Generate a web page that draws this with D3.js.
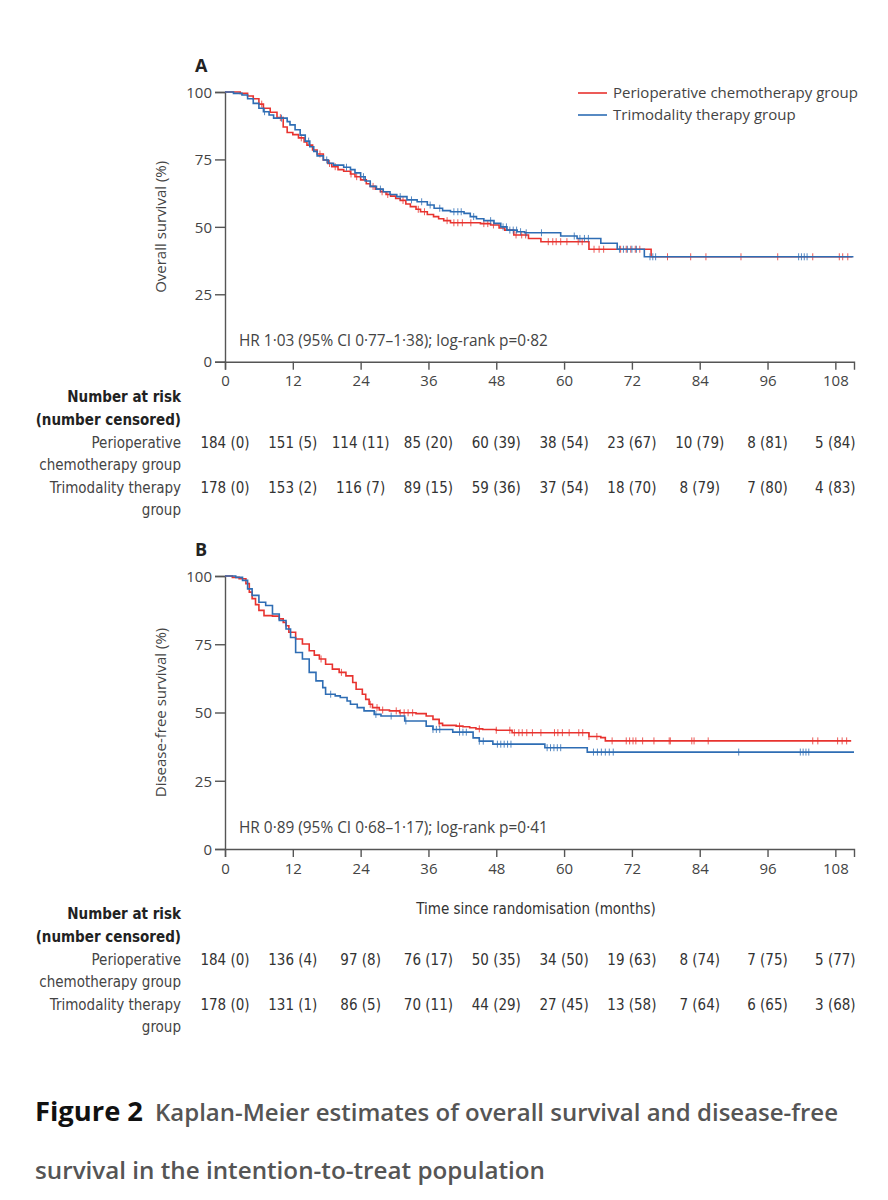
<!DOCTYPE html>
<html>
<head>
<meta charset="utf-8">
<script src="https://cdn.jsdelivr.net/npm/d3@7"></script>
<style>
  body { margin: 0; background: #fff; }
  svg { display: block; }
  .tick text { font-family: "Open Sans", sans-serif; font-size: 15px; fill: #444; }
  .risk { font-family: "Liberation Sans Narrow", "DejaVu Sans Condensed", "Open Sans", sans-serif; font-size: 15px; fill: #333; }
</style>
</head>
<body>
<script>
// time axis and risk table columns
var months = [0, 12, 24, 36, 48, 60, 72, 84, 96, 108];
var survTicks = [0, 25, 50, 75, 100];

// A: overall survival, [month, % surviving] at each step
var osPeri = [[0,100],[2.7,99.5],[4,98.5],[5,97.5],[6,95.5],[6.8,94],[8,92.5],[9.2,90.5],[10.3,87],[11,85],[12,84.2],[13,83],[14,81.5],[14.5,80.3],[15.5,78.5],[16.3,77],[17.4,74.8],[18.2,73.5],[18.9,72.3],[20,71.2],[21,70.6],[22.2,69.6],[23,68.6],[24,67.4],[25,66],[25.7,65],[26.6,64],[27.5,63],[28.5,62],[29.3,61.4],[30.2,60.5],[31,59.8],[32,58.5],[32.8,57.5],[33.8,56.5],[34.6,55.6],[35.8,54.6],[36.9,53.8],[37.8,53],[38.7,52.3],[39.9,51.5],[45.2,51.2],[47,50.7],[48.5,49.6],[49.5,48.8],[51.1,47],[53.7,45.7],[55.9,44.5],[64.4,41.7],[75.4,38.9]];
var osTri = [[0,100],[1.5,99.5],[3,98.9],[4,97.5],[5,95.8],[6,94],[6.8,92.7],[7.8,91.5],[8.6,90.3],[11,89],[11.5,87.8],[12.4,86],[13.3,84],[14.2,81.8],[15,79.7],[15.7,78],[16.3,76.3],[17.4,74.8],[18.3,73.6],[19.2,72.9],[21,72.1],[22.2,71.2],[23,70],[24,68.6],[24.8,67],[25.7,65],[26.8,64],[28,63],[29.2,62],[30.4,61.2],[32.2,60],[34,59.3],[35.8,58.1],[37,56.9],[38.5,56],[39.9,55.6],[42.3,55],[43.4,53.8],[44.5,53],[45.8,52.3],[47.6,51.3],[48.8,50],[49.9,48.8],[51.7,48.2],[53,47.8],[59.4,46.6],[62.3,45.7],[66.5,43.9],[69.4,41.7],[74.2,38.9]];
var osPeriCens = [6.5,9.8,13.5,16.8,18.5,19.5,22.3,23.3,26.2,27.8,28.8,31.5,34.2,35.3,39.3,40.5,41.2,42,43.5,45.8,46.5,47.5,51.5,52.5,53.2,57.2,58,58.6,59.4,60.5,62.5,63.2,65.3,66.2,67,70,71,71.8,72.6,73.4,78.3,82.4,85.1,91.3,97.8,104,108.7,109.3,110.2];
var osTriCens = [7,10,14.8,18,21.5,24.5,27.5,31,33,34.8,36.3,38,40.5,41.2,41.8,44,47,49.2,49.8,50.4,51,51.6,52.3,53.3,56,61.8,62.8,63.6,64.3,69.8,70.5,71.2,72,72.8,75.2,75.7,76.2,101.5,102,102.5,103];

// B: disease-free survival
var dfsPeri = [[0,100],[1.3,99.5],[2.5,99],[3.7,97.2],[4.3,94.1],[4.8,91.7],[5.4,89.5],[6,87.4],[6.9,85.5],[8.4,85.3],[9.6,84.3],[10.3,83],[10.8,81.8],[11.3,79.4],[12.5,76.9],[13.7,75.1],[14.9,72.6],[15.8,71],[16.7,69.6],[17.8,67.7],[19,65.9],[20.2,64.7],[21.4,63.4],[22.6,61],[23.2,58.5],[24.3,56.7],[24.9,54.8],[25.5,53],[26.1,51.8],[27.3,50.9],[29.1,50.6],[30.9,49.9],[33.8,49.6],[35.6,48.7],[36.8,47.5],[37.9,46],[38.5,45.3],[40.9,45],[42.1,44.8],[43.3,44.4],[44.4,44],[45.6,43.8],[48,43.5],[50.8,42.6],[64.4,41.2],[66.5,40.8],[67.3,39.6]];
var dfsTri = [[0,100],[1.9,99.5],[3.1,98.4],[4,95.3],[4.8,92.9],[6,90.4],[7.2,89.2],[8.4,86.1],[9.6,83.7],[10.8,80.6],[11.6,77.5],[12.5,72],[13.7,69.6],[14.9,64.7],[16.1,61.6],[17.3,59.1],[17.8,56.7],[19.5,56.1],[20.4,55.5],[21.6,54.2],[22.2,53],[23.4,51.8],[24.6,50.6],[26.4,49.3],[27.6,48.7],[31.8,46.9],[35.6,45],[36.8,43.8],[40.3,42.8],[43.9,40.7],[45,39.5],[47.4,38.4],[56.6,37.1],[64.1,35.5]];
var dfsPeriCens = [17,20.6,25.7,26.9,27.9,30.3,31,31.7,32.4,33.2,37.9,41.5,45,48,50.4,51.2,52,52.6,53.4,54.4,55.9,58.3,58.9,59.7,60.9,62.6,63.3,64.4,65.8,68.5,71,71.6,72.2,72.7,73.9,75.9,78.6,78.8,82.6,83,85.5,104,104.9,108.4,109.2,110];
var dfsTriCens = [18.7,26.7,29.4,32,36.8,37.4,38,41.5,42.1,42.7,45,45.7,48.2,48.8,49.4,50,50.6,57,57.6,58.2,58.8,59.4,65.2,65.9,66.6,67.3,68,68.7,90.9,101.8,102.3,102.8,103.3];

// number at risk (number censored)
var osPeriRisk = ["184 (0)","151 (5)","114 (11)","85 (20)","60 (39)","38 (54)","23 (67)","10 (79)","8 (81)","5 (84)"];
var osTriRisk = ["178 (0)","153 (2)","116 (7)","89 (15)","59 (36)","37 (54)","18 (70)","8 (79)","7 (80)","4 (83)"];
var dfsPeriRisk = ["184 (0)","136 (4)","97 (8)","76 (17)","50 (35)","34 (50)","19 (63)","8 (74)","7 (75)","5 (77)"];
var dfsTriRisk = ["178 (0)","131 (1)","86 (5)","70 (11)","44 (29)","27 (45)","13 (58)","7 (64)","6 (65)","3 (68)"];

var red = "#e8332f", blue = "#2e6db4";
var tEnd = 111.3;

var svg = d3.select("body").append("svg")
    .attr("width", 888)
    .attr("height", 1200);
svg.append("rect").attr("width", 888).attr("height", 1200).attr("fill", "#fff");

var x = d3.scaleLinear().domain([0, tEnd]).range([225, 854]);

function levelAt(steps, t) {
  var v = steps[0][1];
  steps.forEach(function(p) { if (p[0] <= t) v = p[1]; });
  return v;
}

function drawPanel(p) {
  var y = d3.scaleLinear().domain([0, 100]).range([p.bottom, p.top]);

  var yAxis = d3.axisLeft(y).tickValues(survTicks).tickSize(10).tickPadding(3);
  var gy = svg.append("g").attr("transform", "translate(" + x(0) + ",0)").call(yAxis);
  var xAxis = d3.axisBottom(x).tickValues(months).tickSize(8).tickPadding(6);
  var gx = svg.append("g").attr("transform", "translate(0," + p.bottom + ")").call(xAxis);
  [gx, gy].forEach(function(g) {
    g.select(".domain").attr("stroke", "#555").attr("stroke-width", 1.4);
    g.selectAll(".tick line").attr("stroke", "#555").attr("stroke-width", 1.4);
  });
  gy.selectAll(".tick text").attr("dy", "0.35em");

  var line = d3.line()
      .curve(d3.curveStepAfter)
      .x(function(d) { return x(d[0]); })
      .y(function(d) { return y(d[1]); });

  p.series.forEach(function(s) {
    var pts = s.steps.concat([[s.end, s.steps[s.steps.length - 1][1]]]);
    svg.append("path")
        .attr("d", line(pts))
        .attr("fill", "none")
        .attr("stroke", s.color)
        .attr("stroke-width", 1.6);
    svg.append("g").selectAll("line")
        .data(s.cens)
        .enter().append("line")
        .attr("x1", function(t) { return x(t); })
        .attr("x2", function(t) { return x(t); })
        .attr("y1", function(t) { return y(levelAt(s.steps, t)) - 3.5; })
        .attr("y2", function(t) { return y(levelAt(s.steps, t)) + 3.5; })
        .attr("stroke", s.color)
        .attr("stroke-width", 1)
        .attr("opacity", 0.8);
  });

  svg.append("text")
      .attr("x", 195).attr("y", p.top - 20)
      .attr("font-family", "Open Sans, sans-serif").attr("font-size", 18).attr("font-weight", 700)
      .attr("fill", "#222")
      .text(p.letter);

  svg.append("text")
      .attr("transform", "translate(166," + (p.top + p.bottom) / 2 + ") rotate(-90)")
      .attr("text-anchor", "middle")
      .attr("font-family", "Open Sans, sans-serif").attr("font-size", 15).attr("fill", "#444")
      .text(p.ylabel);

  svg.append("text")
      .attr("x", 239).attr("y", p.bottom - 16)
      .attr("font-family", "Open Sans, sans-serif").attr("font-size", 15.4).attr("fill", "#444")
      .text(p.hr);

  // risk table
  var r = p.riskTop;
  var labels = [
    { t: "Number at risk", y: r, bold: true },
    { t: "(number censored)", y: r + 23, bold: true },
    { t: "Perioperative", y: r + 46 },
    { t: "chemotherapy group", y: r + 68 },
    { t: "Trimodality therapy", y: r + 91 },
    { t: "group", y: r + 113 }
  ];
  svg.append("g").selectAll("text")
      .data(labels)
      .enter().append("text")
      .attr("class", "risk")
      .attr("x", 181)
      .attr("y", function(d) { return d.y; })
      .attr("text-anchor", "end")
      .attr("font-weight", function(d) { return d.bold ? 700 : 400; })
      .style("fill", function(d) { return d.bold ? "#222" : "#444"; })
      .text(function(d) { return d.t; });

  [[p.risk[0], r + 46], [p.risk[1], r + 91]].forEach(function(row) {
    svg.append("g").selectAll("text")
        .data(row[0])
        .enter().append("text")
        .attr("class", "risk")
        .attr("x", function(d, i) { return x(months[i]); })
        .attr("y", row[1])
        .attr("text-anchor", "middle")
        .text(function(d) { return d; });
  });
}

drawPanel({
  letter: "A", top: 92, bottom: 361.7, ylabel: "Overall survival (%)",
  hr: "HR 1\u00b703 (95% CI 0\u00b777\u20131\u00b738); log-rank p=0\u00b782",
  series: [
    { steps: osPeri, cens: osPeriCens, color: red, end: 111 },
    { steps: osTri, cens: osTriCens, color: blue, end: 111.2 }
  ],
  risk: [osPeriRisk, osTriRisk], riskTop: 402
});

drawPanel({
  letter: "B", top: 576, bottom: 849, ylabel: "Disease-free survival (%)",
  hr: "HR 0\u00b789 (95% CI 0\u00b768\u20131\u00b717); log-rank p=0\u00b741",
  series: [
    { steps: dfsPeri, cens: dfsPeriCens, color: red, end: 110.8 },
    { steps: dfsTri, cens: dfsTriCens, color: blue, end: 111.3 }
  ],
  risk: [dfsPeriRisk, dfsTriRisk], riskTop: 919
});

svg.append("text")
    .attr("x", 536).attr("y", 914)
    .attr("text-anchor", "middle")
    .attr("class", "risk")
    .text("Time since randomisation (months)");

// legend
var legend = [{ name: "Perioperative chemotherapy group", color: red }, { name: "Trimodality therapy group", color: blue }];
var lg = svg.append("g").selectAll("g")
    .data(legend)
    .enter().append("g")
    .attr("transform", function(d, i) { return "translate(578," + (93 + i * 22) + ")"; });
lg.append("line").attr("x1", 0).attr("x2", 29).attr("stroke", function(d) { return d.color; }).attr("stroke-width", 1.6);
lg.append("text").attr("x", 35).attr("dy", "0.35em")
    .attr("font-family", "Open Sans, sans-serif").attr("font-size", 15).attr("fill", "#444")
    .text(function(d) { return d.name; });

// caption
svg.append("text")
    .attr("x", 35).attr("y", 1121)
    .attr("font-family", "Open Sans, sans-serif").attr("font-size", 27).attr("font-weight", 700).attr("fill", "#111")
    .attr("textLength", 108).attr("lengthAdjust", "spacingAndGlyphs")
    .text("Figure 2");
svg.append("text")
    .attr("x", 155).attr("y", 1121)
    .attr("font-family", "Open Sans, sans-serif").attr("font-size", 24).attr("font-weight", 600).attr("fill", "#555")
    .attr("textLength", 683).attr("lengthAdjust", "spacingAndGlyphs")
    .text("Kaplan-Meier estimates of overall survival and disease-free");
svg.append("text")
    .attr("x", 35).attr("y", 1179)
    .attr("font-family", "Open Sans, sans-serif").attr("font-size", 24).attr("font-weight", 600).attr("fill", "#555")
    .attr("textLength", 510).attr("lengthAdjust", "spacingAndGlyphs")
    .text("survival in the intention-to-treat population");
</script>
</body>
</html>
